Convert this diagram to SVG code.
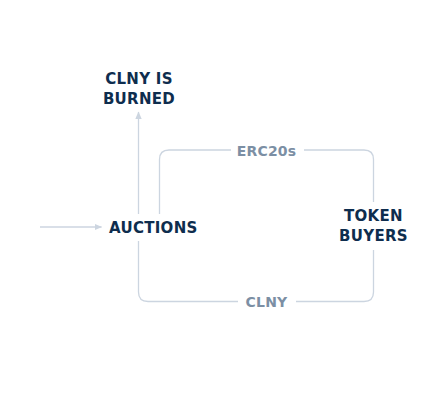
<svg xmlns="http://www.w3.org/2000/svg" width="445" height="400" viewBox="0 0 445 400">
<style>
.node{font-family:"DejaVu Sans",sans-serif;font-weight:bold;font-size:15px;fill:#0e2d4e;text-anchor:middle;letter-spacing:0.3px}
.lbl{font-family:"DejaVu Sans",sans-serif;font-weight:bold;font-size:14px;fill:#7c8fa4;text-anchor:middle;letter-spacing:0.2px}
.ln{fill:none;stroke:#ccd5e0;stroke-width:1.3}
</style>
<defs>
<marker id="ah" viewBox="0 0 8 8" refX="7" refY="4" markerWidth="8" markerHeight="8" markerUnits="userSpaceOnUse" orient="auto">
<path d="M0 0.8 L7.5 4 L0 7.2 Z" fill="#ccd5e0"/>
</marker>
</defs>
<rect width="445" height="400" fill="#ffffff"/>
<g id="connectors">
<path class="ln" d="M40 227 H101.5" marker-end="url(#ah)"/>
<path class="ln" d="M138.5 214 V112" marker-end="url(#ah)"/>
<path class="ln" d="M159.5 214 V159.5 Q159.5 150 169 150 H231"/>
<path class="ln" d="M304 150 H364 Q373.5 150 373.5 159.5 V202"/>
<path class="ln" d="M138.5 241 V292 Q138.5 301.5 148 301.5 H238"/>
<path class="ln" d="M296 301.5 H364 Q373.5 301.5 373.5 292 V250"/>
<text class="lbl" x="266.5" y="156">ERC20s</text>
<text class="lbl" x="266.5" y="306.8">CLNY</text>
</g>
<g id="burned">
<text class="node" x="139" y="84">CLNY IS</text>
<text class="node" x="139" y="104.3">BURNED</text>
</g>
<g id="auctions">
<text class="node" x="153.3" y="233.3">AUCTIONS</text>
</g>
<g id="buyers">
<text class="node" x="373.5" y="220.7">TOKEN</text>
<text class="node" x="373.5" y="241">BUYERS</text>
</g>
</svg>
